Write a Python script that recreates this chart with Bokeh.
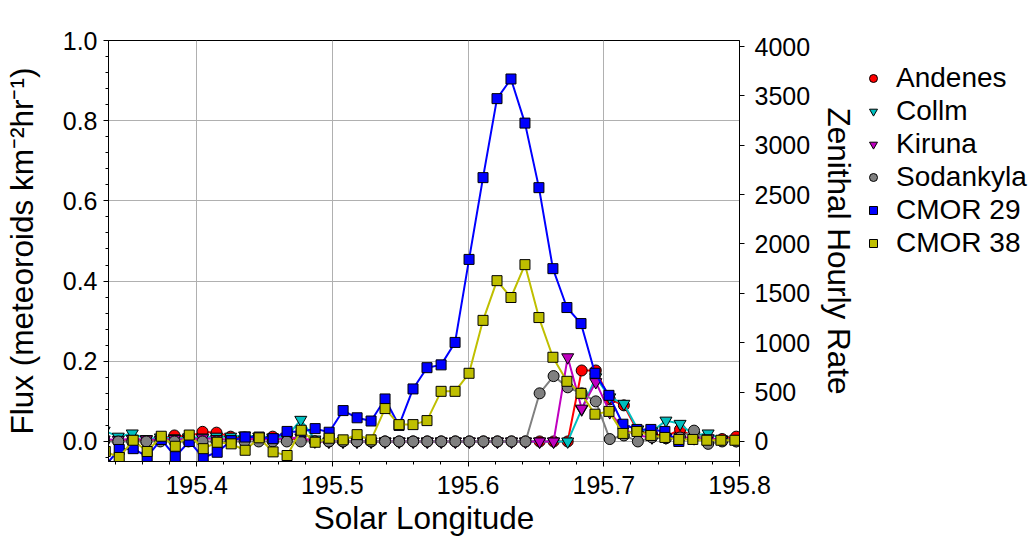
from bokeh.plotting import figure
from bokeh.models import (Range1d, LinearAxis, FixedTicker, PrintfTickFormatter,
                          Legend, LegendItem)
from bokeh.layouts import row
from bokeh.embed import file_html
from bokeh.resources import INLINE

# ---------------- data ----------------
# CMOR radar bins (solar longitude, deg)
cmor_x = [195.3326, 195.3429, 195.3532, 195.3635, 195.3739, 195.3842, 195.3945,
          195.4048, 195.4151, 195.4254, 195.4357, 195.4460, 195.4563, 195.4666,
          195.4770, 195.4873, 195.4976, 195.5079, 195.5182, 195.5285, 195.5388,
          195.5491, 195.5594, 195.5697, 195.5801, 195.5904, 195.6007, 195.6110,
          195.6213, 195.6316, 195.6419, 195.6522, 195.6625, 195.6728, 195.6832,
          195.6935, 195.7038, 195.7141, 195.7244, 195.7347, 195.7450, 195.7553,
          195.7656, 195.7759, 195.7863, 195.7966]
cmor29_flux = [-0.06, -0.02, -0.018, -0.038, 0.005, -0.038, 0.0, -0.04, -0.027, 0.002,
               0.011, 0.011, 0.007, 0.025, 0.024, 0.032, 0.023, 0.077, 0.059, 0.051,
               0.106, 0.04, 0.131, 0.184, 0.191, 0.247, 0.454, 0.658, 0.855, 0.904,
               0.794, 0.633, 0.431, 0.334, 0.294, 0.17, 0.115, 0.043, 0.03, 0.03,
               0.025, 0.0]
cmor38_flux = [-0.025, -0.040, 0.003, -0.025, 0.013, -0.012, 0.016, -0.018, -0.002, -0.006,
               -0.022, 0.009, -0.026, -0.035, 0.028, -0.002, 0.008, 0.004, 0.017, 0.004,
               0.082, 0.042, 0.042, 0.052, 0.125, 0.125, 0.17, 0.302, 0.401, 0.359,
               0.441, 0.309, 0.21, 0.15, 0.12, 0.068, 0.075, 0.02, 0.025, 0.015,
               0.01, 0.005, 0.005, 0.003, 0.003, 0.003]

# meteor-radar stations (solar longitude, deg)
station_x = [195.3318, 195.3422, 195.3525, 195.3629, 195.3732, 195.3836, 195.3939,
             195.4043, 195.4146, 195.4250, 195.4353, 195.4457, 195.4560, 195.4664,
             195.4767, 195.4871, 195.4974, 195.5078, 195.5181, 195.5285, 195.5388,
             195.5492, 195.5595, 195.5699, 195.5802, 195.5906, 195.6009, 195.6113,
             195.6216, 195.6320, 195.6423, 195.6527, 195.6630, 195.6734, 195.6837,
             195.6941, 195.7044, 195.7148, 195.7251, 195.7355, 195.7458, 195.7562,
             195.7665, 195.7769, 195.7872, 195.7976]
andenes_flux = [0.005, 0.0, 0.003, 0.0, 0.006, 0.015, 0.012, 0.024, 0.022, 0.012,
                0.01, 0.008, 0.012, 0.008, 0.005, 0.0, 0.0, 0.0, 0.0, 0.0,
                0.0, 0.0, 0.0, 0.0, 0.0, 0.0, 0.0, 0.0, 0.0, 0.0,
                0.0, 0.0, 0.0, 0.0, 0.177, 0.177, 0.105, 0.09, 0.025, 0.02,
                0.012, 0.03, 0.01, 0.005, 0.006, 0.012]
collm_flux = [0.027, 0.012, 0.02, 0.006, 0.01, 0.008, 0.01, 0.01, 0.012, 0.012,
              0.015, 0.012, 0.01, 0.012, 0.054, 0.005, 0.0, 0.0, 0.0, 0.0,
              0.0, 0.0, 0.0, 0.0, 0.0, 0.0, 0.0, 0.0, 0.0, 0.0,
              0.0, 0.0, 0.0, 0.0, 0.08, 0.16, 0.11, 0.094, 0.03, 0.025,
              0.052, 0.044, 0.015, 0.02, 0.005, 0.005]
kiruna_flux = [0.005, 0.004, 0.006, 0.005, 0.004, 0.006, 0.005, 0.008, 0.006, 0.005,
               0.005, 0.006, 0.005, 0.008, 0.01, 0.0, 0.0, 0.0, 0.0, 0.0,
               0.0, 0.0, 0.0, 0.0, 0.0, 0.0, 0.0, 0.0, 0.0, 0.0,
               0.0, 0.0, 0.0, 0.21, 0.082, 0.148, 0.073, 0.03, 0.015, 0.01,
               0.01, 0.012, 0.008, 0.008, 0.004, 0.003]
sodankyla_flux = [0.0, 0.0, 0.0, 0.0, 0.0, 0.0, 0.0, 0.0, 0.0, 0.0,
                  0.0, 0.0, 0.0, 0.0, 0.0, 0.0, 0.0, 0.0, 0.0, 0.0,
                  0.0, 0.0, 0.0, 0.0, 0.0, 0.0, 0.0, 0.0, 0.0, 0.0,
                  0.0, 0.12, 0.163, 0.135, 0.12, 0.1, 0.006, 0.015, 0.0, 0.01,
                  0.008, 0.01, 0.027, -0.006, 0.0, 0.0]

x_ticks = [195.4, 195.5, 195.6, 195.7, 195.8]
x_minor = [195.34, 195.36, 195.38, 195.42, 195.44, 195.46, 195.48, 195.52, 195.54,
           195.56, 195.58, 195.62, 195.64, 195.66, 195.68, 195.72, 195.74, 195.76, 195.78]
flux_ticks = [0.0, 0.2, 0.4, 0.6, 0.8, 1.0]
flux_minor = [-0.04, 0.04, 0.08, 0.12, 0.16, 0.24, 0.28, 0.32, 0.36, 0.44, 0.48, 0.52,
              0.56, 0.64, 0.68, 0.72, 0.76, 0.84, 0.88, 0.92, 0.96]
zhr_ticks = [0, 500, 1000, 1500, 2000, 2500, 3000, 3500, 4000]
ZHR_PER_FLUX = 4061.0

FONT = "Liberation Sans"
MAIN_W = 862
H = 543
TOP, BOTTOM = 40, 82

# ---------------- main figure ----------------
p = figure(width=MAIN_W, height=H,
           x_range=Range1d(195.335, 195.8), y_range=Range1d(-0.05, 1.0),
           output_backend="svg", toolbar_location=None,
           min_border_left=107, min_border_right=MAIN_W - 739,
           min_border_top=TOP, min_border_bottom=BOTTOM)
p.extra_y_ranges = {"zhr": Range1d(-0.05 * ZHR_PER_FLUX, 1.0 * ZHR_PER_FLUX)}
p.outline_line_color = "black"
p.outline_line_width = 1
p.background_fill_color = "white"
p.border_fill_color = "white"

def style_axis(ax, label, standoff, label_standoff):
    ax.axis_label = label
    ax.axis_label_text_font = FONT
    ax.axis_label_text_font_size = "31.5px"
    ax.axis_label_text_font_style = "normal"
    ax.axis_label_text_color = "black"
    ax.axis_label_standoff = label_standoff
    ax.major_label_text_font = FONT
    ax.major_label_text_font_size = "25px"
    ax.major_label_text_color = "black"
    ax.major_label_standoff = standoff
    ax.axis_line_color = "black"
    ax.major_tick_line_color = "black"
    ax.minor_tick_line_color = "black"
    ax.major_tick_out = 5
    ax.major_tick_in = 0
    ax.minor_tick_out = 3
    ax.minor_tick_in = 0

xax = p.xaxis[0]
xax.ticker = FixedTicker(ticks=x_ticks, minor_ticks=x_minor)
xax.formatter = PrintfTickFormatter(format="%.1f")
style_axis(xax, "Solar Longitude", 9, 3)

yax = p.yaxis[0]
yax.ticker = FixedTicker(ticks=flux_ticks, minor_ticks=flux_minor)
yax.formatter = PrintfTickFormatter(format="%.1f")
style_axis(yax, "Flux (meteoroids km\u207b\u00b2hr\u207b\u00b9)", 6, 20)

rax = LinearAxis(y_range_name="zhr", ticker=FixedTicker(ticks=zhr_ticks))
rax.formatter = PrintfTickFormatter(format="%d")
style_axis(rax, "Zenithal Hourly Rate", 10, 8)
rax.minor_tick_line_color = None
p.add_layout(rax, "right")

p.xgrid.ticker = FixedTicker(ticks=x_ticks)
p.ygrid.ticker = FixedTicker(ticks=flux_ticks)
for g in (p.xgrid[0], p.ygrid[0]):
    g.grid_line_color = "#b0b0b0"
    g.grid_line_width = 1

series = [
    ("Andenes", station_x, andenes_flux, "#ff0000", "circle", 11),
    ("Collm", station_x, collm_flux, "#00bfbf", "inverted_triangle", 12),
    ("Kiruna", station_x, kiruna_flux, "#bf00bf", "inverted_triangle", 12),
    ("Sodankyla", station_x, sodankyla_flux, "#808080", "circle", 11),
    ("CMOR 29", cmor_x[:len(cmor29_flux)], cmor29_flux, "#0000ff", "square", 10),
    ("CMOR 38", cmor_x[:len(cmor38_flux)], cmor38_flux, "#bfbf00", "square", 10),
]

for name, xs, ys, color, marker, size in series:
    p.line(xs, ys, line_color=color, line_width=2)
    p.scatter(xs, ys, marker=marker, size=size, fill_color=color,
              line_color="black", line_width=1)

# ---------------- legend panel (separate, frameless figure) ----------------
LEG_W = 1035 - MAIN_W
lf = figure(width=LEG_W, height=H, x_range=Range1d(0, 1), y_range=Range1d(0, 1),
            output_backend="svg", toolbar_location=None,
            min_border=0, x_axis_location=None, y_axis_location=None)
lf.outline_line_color = None
lf.grid.visible = False
lf.background_fill_color = "white"
lf.border_fill_color = "white"

items = []
for name, xs, ys, color, marker, size in series:
    r = lf.scatter([float("nan")], [float("nan")], marker=marker, size=size,
                   fill_color=color, line_color="black", line_width=1)
    items.append(LegendItem(label=name, renderers=[r]))

ROW_H = 32
GAP = 1
# the row layout aligns this frame with the main frame (top 40, bottom 461)
legend_h = 6 * ROW_H + 5 * GAP
legend_bottom = (H - BOTTOM) - 62 - legend_h
legend = Legend(items=items, location=(863 - MAIN_W, legend_bottom))
legend.label_text_font = FONT
legend.label_text_font_size = "28px"
legend.label_text_color = "black"
legend.glyph_width = 20
legend.glyph_height = ROW_H
legend.label_height = ROW_H
legend.spacing = GAP
legend.padding = 0
legend.margin = 0
legend.label_standoff = 13
legend.border_line_color = None
legend.background_fill_alpha = 0
lf.add_layout(legend, "center")

layout = row(p, lf)
open("out.html", "w").write(file_html(layout, INLINE))
